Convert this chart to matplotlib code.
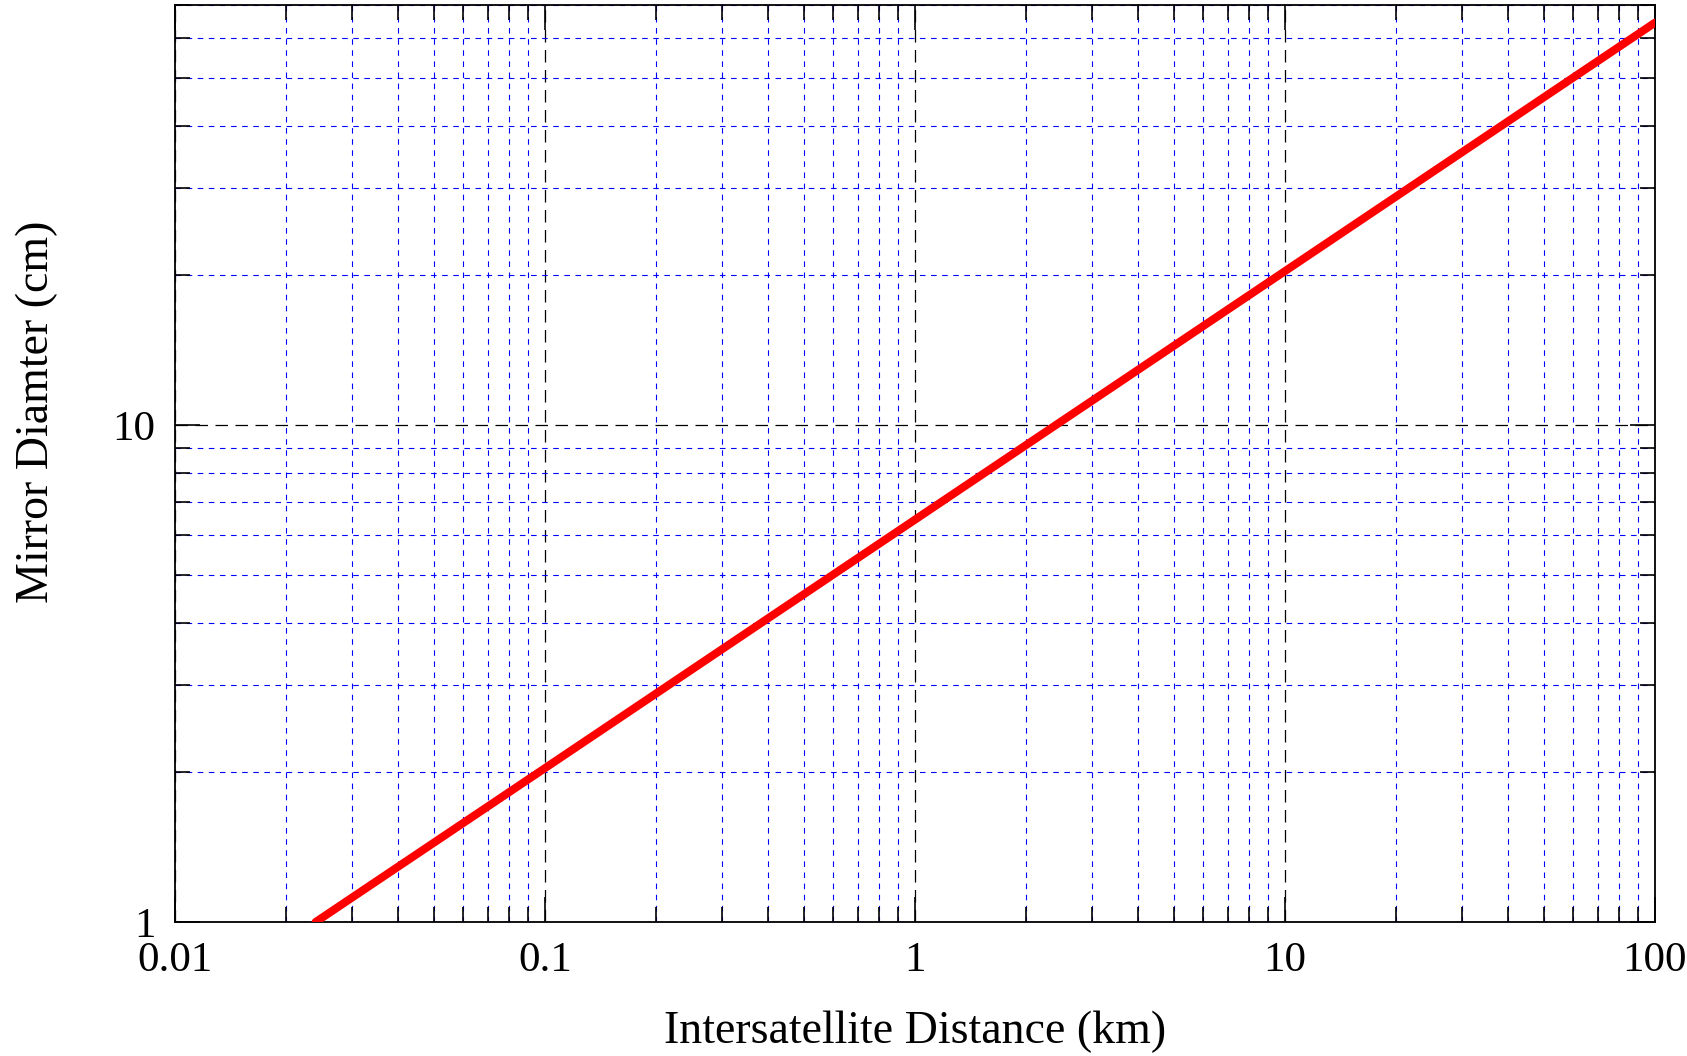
import matplotlib.pyplot as plt
from matplotlib.ticker import LogLocator, NullFormatter, FixedLocator, FixedFormatter

plt.rcParams['font.family'] = ['Liberation Serif', 'DejaVu Serif']

# values
distance_km = [0.024, 0.1, 1, 10, 100]
diameter_cm = [1.0, 2.04, 6.45, 20.4, 64.5]

x_ticks = [0.01, 0.1, 1, 10, 100]
x_labels = ["0.01", "0.1", "1", "10", "100"]
y_ticks = [1, 10]
y_labels = ["1", "10"]

fig = plt.figure(figsize=(16.87, 10.56), dpi=100)
ax = fig.add_axes([175 / 1687, 1 - 922 / 1056, 1480 / 1687, 917 / 1056])

ax.plot(distance_km, diameter_cm, color="red", linewidth=5.8,
        solid_capstyle="round", zorder=5)

ax.set_xscale("log")
ax.set_yscale("log")
ax.set_xlim(0.01, 100)
ax.set_ylim(1, 70)

ax.xaxis.set_major_locator(FixedLocator(x_ticks))
ax.xaxis.set_major_formatter(FixedFormatter(x_labels))
ax.yaxis.set_major_locator(FixedLocator(y_ticks))
ax.yaxis.set_major_formatter(FixedFormatter(y_labels))
ax.xaxis.set_minor_locator(LogLocator(base=10, subs=range(2, 10)))
ax.yaxis.set_minor_locator(LogLocator(base=10, subs=range(2, 10)))
ax.xaxis.set_minor_formatter(NullFormatter())
ax.yaxis.set_minor_formatter(NullFormatter())

ax.grid(True, which="major", color="black", linestyle=(0, (10, 6)), linewidth=0.9)
ax.grid(True, which="minor", color="blue", linestyle=(0, (5, 5)), linewidth=0.8)

ax.tick_params(which="both", direction="in", top=True, right=True,
               labelsize=31, width=1.2, color="black")
ax.tick_params(which="major", length=18, pad=14)
ax.tick_params(which="minor", length=11)
for s in ax.spines.values():
    s.set_linewidth(1.3)

ax.set_xlabel("Intersatellite Distance (km)", fontsize=33, labelpad=22)
ax.set_ylabel("Mirror Diamter (cm)", fontsize=33)
ax.yaxis.set_label_coords(-0.079, 0.556)

fig.savefig("out.png", dpi=100)
